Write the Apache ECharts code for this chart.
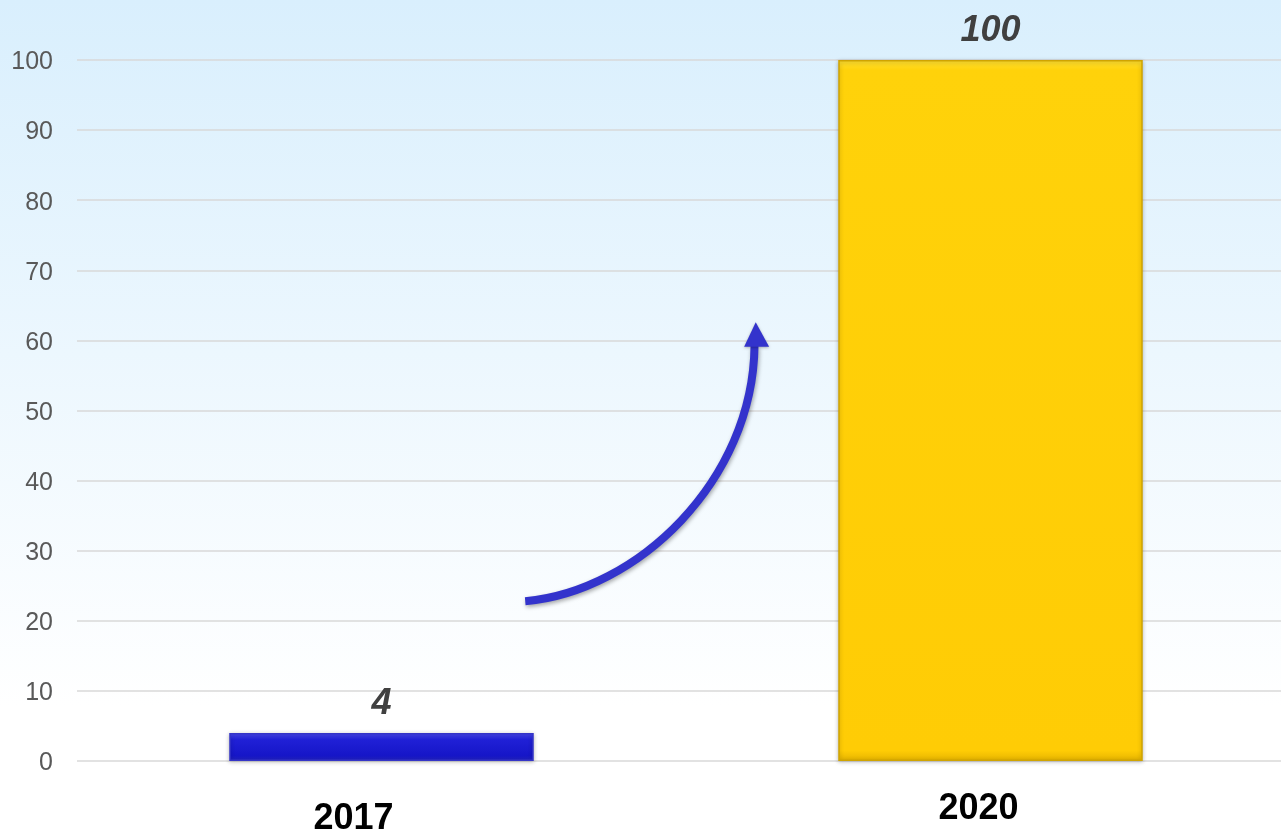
<!DOCTYPE html>
<html>
<head>
<meta charset="utf-8">
<script src="https://cdn.jsdelivr.net/npm/echarts@6/dist/echarts.min.js"></script>
<style>
html,body{margin:0;padding:0;}
#c{width:1281px;height:831px;}
</style>
</head>
<body>
<div id="c"></div>
<script>
var categories = ['2017', '2020'];
var values = [4, 100];
var yTicks = [0, 10, 20, 30, 40, 50, 60, 70, 80, 90, 100];

var chart = echarts.init(document.getElementById('c'));
var barStyles = [
  {
    color: new echarts.graphic.LinearGradient(0, 0, 0, 1, [
      {offset: 0, color: '#4a4af2'},
      {offset: 0.25, color: '#2020d6'},
      {offset: 0.8, color: '#1616c8'},
      {offset: 1, color: '#2424c0'}
    ]),
    borderColor: '#3535c8', borderWidth: 1.5,
    shadowColor: 'rgba(0,0,0,0.25)', shadowBlur: 4, shadowOffsetY: 1
  },
  {
    color: new echarts.graphic.LinearGradient(0, 0, 0, 1, [
      {offset: 0, color: '#ffe033'},
      {offset: 0.015, color: '#ffd20a'},
      {offset: 0.985, color: '#ffcc05'},
      {offset: 1, color: '#e6b400'}
    ]),
    borderColor: '#d0a400', borderWidth: 1.5,
    shadowColor: 'rgba(0,0,0,0.25)', shadowBlur: 4, shadowOffsetY: 1
  }
];

chart.setOption({
  animation: false,
  backgroundColor: new echarts.graphic.LinearGradient(0, 0, 0, 1, [
    {offset: 0, color: '#d9effd'},
    {offset: 0.85, color: '#ffffff'},
    {offset: 1, color: '#ffffff'}
  ]),
  grid: {left: 77, right: -14, top: 60, bottom: 70, outerBoundsMode: 'none'},
  xAxis: {
    type: 'category',
    data: categories,
    axisLine: {show: false},
    axisTick: {show: false},
    axisLabel: {
      margin: 30,
      formatter: function (v, i) { return i === 0 ? '{a|' + v + '}' : '{b|' + v + '}'; },
      rich: {
        a: {fontFamily: 'Liberation Sans, Arial, sans-serif', fontSize: 36, fontWeight: 'bold', color: '#000', padding: [10, 56, 0, 0]},
        b: {fontFamily: 'Liberation Sans, Arial, sans-serif', fontSize: 36, fontWeight: 'bold', color: '#000', padding: [0, 24, 0, 0]}
      }
    }
  },
  yAxis: {
    type: 'value',
    min: yTicks[0],
    max: yTicks[yTicks.length - 1],
    interval: 10,
    axisLine: {show: false},
    axisTick: {show: false},
    axisLabel: {
      margin: 24,
      formatter: function (v) { return '{t|' + v + '}'; },
      rich: {t: {fontFamily: 'Liberation Sans, Arial, sans-serif', fontSize: 25, color: '#595959', padding: [5, 0, 0, 0]}}
    },
    splitLine: {lineStyle: {color: '#d9d9d9', width: 1.5}}
  },
  series: [{
    type: 'bar',
    barWidth: '50%',
    data: values.map(function (v, i) { return {value: v, itemStyle: barStyles[i]}; }),
    label: {
      show: true,
      position: 'top',
      distance: 11,
      fontFamily: 'Liberation Sans, Arial, sans-serif',
      fontSize: 36,
      fontStyle: 'italic',
      fontWeight: 'bold',
      color: '#404040'
    }
  }]
});

// Decorative growth arrow, positioned relative to the axes
var p0 = chart.convertToPixel({xAxisIndex: 0}, 0);
var p1 = chart.convertToPixel({xAxisIndex: 0}, 1);
var d = p1 - p0;
function X(f) { return p0 + f * d; }
function Y(v) { return chart.convertToPixel({yAxisIndex: 0}, v); }
var arrowColor = '#3333cc';
chart.setOption({
  graphic: [
    {
      type: 'bezierCurve',
      shape: {
        x1: X(0.236), y1: Y(22.8),
        cpx1: X(0.42), cpy1: Y(24.2),
        cpx2: X(0.61), cpy2: Y(40),
        x2: X(0.6125), y2: Y(59.2)
      },
      style: {stroke: arrowColor, lineWidth: 8, fill: null, shadowColor: 'rgba(0,0,0,0.35)', shadowBlur: 4, shadowOffsetX: 1, shadowOffsetY: 2},
      z: 100
    },
    {
      type: 'polygon',
      shape: {points: [[X(0.6145), Y(62.6)], [X(0.5955), Y(59.1)], [X(0.6365), Y(59.1)]]},
      style: {fill: arrowColor, shadowColor: 'rgba(0,0,0,0.3)', shadowBlur: 3, shadowOffsetY: 1},
      z: 100
    }
  ]
});
</script>
</body>
</html>
